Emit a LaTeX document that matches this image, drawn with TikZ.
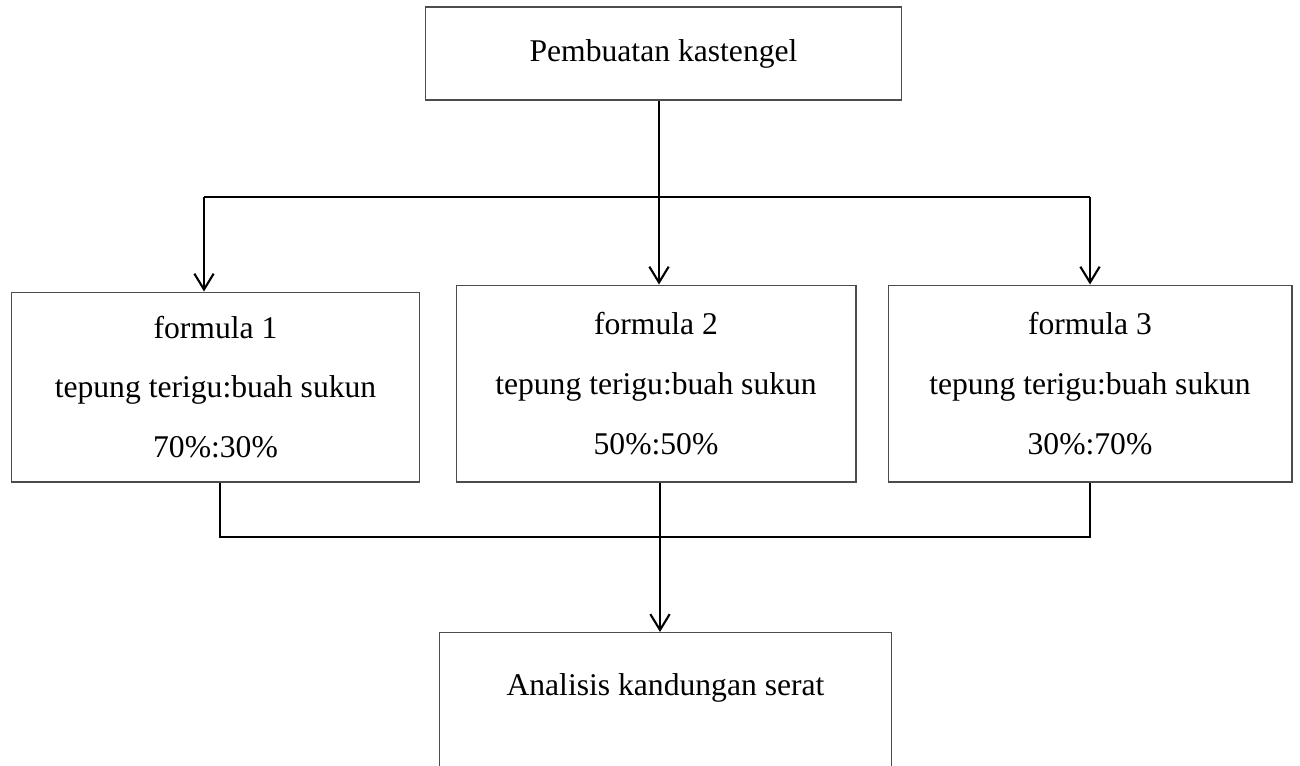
\documentclass[tikz,border=0pt]{standalone}
\usepackage{fontspec}
\setmainfont{Liberation Serif}
\usetikzlibrary{arrows.meta}
\tikzset{
  stagebox/.style={draw=black!70, line width=0.6pt, fill=white, align=center,
    font=\fontsize{18}{34}\selectfont},
  flow/.style={line width=1.2pt, black}
}
\begin{document}
\begin{tikzpicture}[x=0.02cm, y=-0.02cm, >={Straight Barb[length=9pt,width=11pt]}]
                \useasboundingbox (0,0) rectangle (1300,765);
                \clip (0,0) rectangle (1300,765);

                % Draw the first step
                \node[stagebox, minimum width=9.54cm, minimum height=1.86cm]
                  (start) at (663.5,53.5) {Pembuatan kastengel};

                % Draw the three formulas
                \node[stagebox, minimum width=8.18cm, minimum height=3.8cm]
                  (form1) at (215.5,387) {formula 1\\tepung terigu:buah sukun\\70\%:30\%};
                \node[stagebox, minimum width=8.0cm, minimum height=3.94cm]
                  (form2) at (656,383.5) {formula 2\\tepung terigu:buah sukun\\50\%:50\%};
                \node[stagebox, minimum width=8.08cm, minimum height=3.94cm]
                  (form3) at (1090,383.5) {formula 3\\tepung terigu:buah sukun\\30\%:70\%};

                % Draw the analysis step (runs off the page)
                \node[stagebox, minimum width=9.06cm, minimum height=2.9cm, text depth=0.8cm]
                  (analysis) at (665.5,705) {Analisis kandungan serat};

                % Split points of the connectors
                \coordinate (split) at (659,197);
                \coordinate (left) at (204,197);
                \coordinate (right) at (1090,197);
                \coordinate (join) at (660,537);

                % Draw the arrows from the first step to the formulas
                \draw[flow, ->] (start.south -| split) -- (form2.north -| split);
                \draw[flow] (left) -- (right);
                \draw[flow, ->] (left) -- (form1.north -| left);
                \draw[flow, ->] (right) -- (form3.north -| right);

                % Draw the lines from the formulas to the analysis
                \draw[flow] ([xshift=2.5pt]form1.south) |- (join) -| (form3.south);
                \draw[flow, ->] (form2.south -| join) -- (analysis.north -| join);

            \end{tikzpicture}
\end{document}
